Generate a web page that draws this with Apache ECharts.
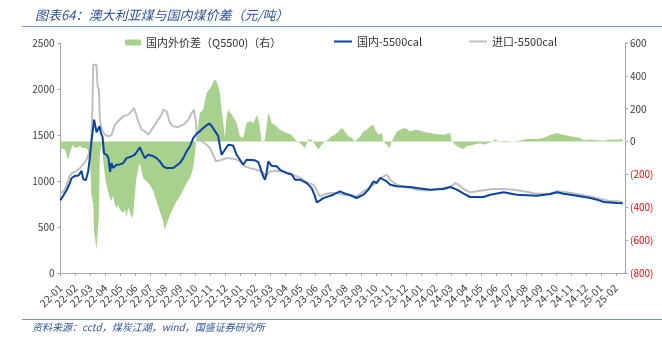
<!DOCTYPE html>
<html><head><meta charset="utf-8">
<script src="https://cdn.jsdelivr.net/npm/echarts@6/dist/echarts.min.js"></script>
<style>html,body{margin:0;padding:0;background:#fff}#c{width:662px;height:337px}</style>
</head><body><div id="c"></div>
<script>
const months = ['22-01','22-02','22-03','22-04','22-05','22-06','22-07','22-08','22-09','22-10','22-11','22-12',
'23-01','23-02','23-03','23-04','23-05','23-06','23-07','23-08','23-09','23-10','23-11','23-12',
'24-01','24-02','24-03','24-04','24-05','24-06','24-07','24-08','24-09','24-10','24-11','24-12','25-01','25-02'];

// [months since 2022-01-01, value] — domestic minus import spread (right axis)
const diffPts = [[0,-39],[0.29,-49],[0.4,-80],[0.51,-110],[0.62,-69],[0.73,-39],[0.84,-19],[0.95,-39],[1.06,-29],[1.29,-29],[1.4,-19],[1.51,-39],[1.73,-39],[1.95,-80],[2.06,-324],[2.18,-385],[2.24,-547],[2.33,-608],[2.4,-659],[2.46,-567],[2.55,-466],[2.62,-80],[2.73,-10],[2.84,-20],[2.95,-202],[3.06,-263],[3.29,-344],[3.4,-364],[3.51,-323],[3.62,-385],[3.73,-405],[3.84,-385],[3.95,-415],[4.06,-405],[4.18,-435],[4.29,-415],[4.4,-456],[4.51,-405],[4.62,-425],[4.73,-466],[4.84,-445],[4.95,-323],[5.06,-222],[5.18,-161],[5.29,-131],[5.4,-181],[5.51,-222],[5.73,-242],[5.95,-263],[6.18,-303],[6.4,-364],[6.62,-425],[6.84,-486],[6.95,-537],[7.06,-506],[7.18,-476],[7.29,-445],[7.51,-405],[7.73,-364],[7.95,-334],[8.18,-293],[8.4,-252],[8.62,-222],[8.84,-161],[8.95,-80],[9.02,0],[9.1,50],[9.28,173],[9.5,194],[9.73,296],[10.06,337],[10.17,367],[10.35,377],[10.5,340],[10.62,296],[10.73,194],[10.84,113],[10.95,22],[11.06,153],[11.17,194],[11.28,185],[11.5,153],[11.73,113],[11.95,32],[12.17,22],[12.39,113],[12.62,123],[12.84,113],[12.95,133],[13.1,164],[13.24,113],[13.4,0],[13.62,10],[13.84,174],[13.95,153],[14.06,113],[14.28,103],[14.62,72],[15.06,52],[15.4,42],[15.62,12],[15.73,22],[15.95,-9],[16.28,-40],[16.51,12],[16.73,12],[16.95,-19],[17.17,-49],[17.4,-19],[17.62,0],[17.84,12],[18.06,32],[18.28,42],[18.5,62],[18.73,83],[18.95,62],[19.17,32],[19.4,22],[19.62,0],[19.96,32],[20.18,62],[20.4,72],[20.62,93],[20.85,103],[20.96,72],[21.18,42],[21.4,52],[21.51,0],[21.73,-19],[21.91,-39],[22.07,0],[22.4,62],[22.73,77],[22.96,83],[23.29,62],[23.62,72],[23.96,68],[24.29,56],[24.62,52],[25.07,46],[25.51,42],[25.96,52],[26.07,0],[26.29,-19],[26.62,-39],[26.85,-45],[27.07,-29],[27.51,-19],[27.96,-10],[28.18,-19],[28.62,-5],[28.96,12],[29.29,-3],[29.73,-5],[30.18,0],[30.62,6],[31.07,15],[31.73,15],[32.18,22],[32.62,42],[33.07,52],[33.51,42],[33.96,32],[34.62,22],[34.85,8],[35.29,12],[35.73,8],[36.18,5],[36.62,12],[37.07,12],[37.45,15]];

// domestic 5500cal (left axis)
const domPts = [[0,790],[0.18,840],[0.4,900],[0.62,975],[0.73,1030],[0.95,1055],[1.2,1060],[1.4,1110],[1.51,1020],[1.69,1010],[1.84,1100],[1.95,1250],[2.06,1430],[2.15,1550],[2.24,1667],[2.3,1660],[2.4,1530],[2.5,1525],[2.6,1595],[2.69,1520],[2.8,1480],[2.9,1300],[3.07,1285],[3.2,1250],[3.3,1100],[3.4,1195],[3.51,1141],[3.73,1177],[3.95,1180],[4.18,1195],[4.4,1249],[4.73,1267],[4.95,1286],[5.18,1340],[5.29,1365],[5.4,1322],[5.62,1249],[5.84,1286],[6.1,1275],[6.4,1249],[6.62,1213],[6.84,1159],[7.06,1141],[7.51,1141],[7.95,1195],[8.18,1249],[8.4,1322],[8.62,1376],[8.84,1467],[9.07,1515],[9.28,1540],[9.5,1575],[9.73,1605],[9.9,1625],[10.06,1600],[10.28,1545],[10.5,1490],[10.62,1376],[10.73,1285],[10.95,1340],[11.17,1394],[11.5,1385],[11.73,1285],[11.95,1231],[12.17,1177],[12.39,1231],[12.95,1225],[13.17,1205],[13.28,1159],[13.5,1050],[13.62,1014],[13.73,1090],[13.84,1213],[13.95,1225],[14.06,1165],[14.4,1160],[14.62,1122],[15.06,1086],[15.4,1070],[15.62,1014],[15.95,1014],[16.4,977],[16.73,923],[16.95,833],[17.07,767],[17.29,790],[17.5,814],[18.17,851],[18.62,887],[18.84,870],[19.29,845],[19.73,815],[20.18,851],[20.51,906],[20.85,996],[21.07,978],[21.29,1033],[21.51,1014],[21.73,996],[21.96,960],[22.4,942],[23.29,935],[23.73,924],[24.62,906],[25.51,913],[25.96,935],[26.4,906],[26.85,862],[27.29,826],[28.18,826],[28.62,851],[29.51,877],[30.4,851],[31.73,840],[32.62,858],[33.07,877],[33.51,862],[34.4,840],[35.29,815],[35.73,797],[36.18,772],[37.07,761],[37.45,758]];

// imported 5500cal (left axis)
const impPts = [[0,880],[0.18,880],[0.4,950],[0.62,1060],[0.84,1095],[1.06,1110],[1.29,1141],[1.51,1180],[1.73,1231],[1.95,1320],[2.06,1450],[2.13,1812],[2.18,2264],[2.29,2282],[2.4,2264],[2.47,2029],[2.56,1993],[2.62,1685],[2.69,1594],[2.8,1540],[2.96,1504],[3.18,1485],[3.4,1500],[3.62,1612],[3.84,1649],[4.18,1703],[4.51,1721],[4.73,1757],[4.89,1793],[5.02,1775],[5.18,1649],[5.4,1558],[5.62,1540],[5.84,1504],[6.07,1558],[6.29,1612],[6.51,1667],[6.73,1721],[6.84,1775],[7.07,1757],[7.29,1630],[7.51,1594],[7.84,1587],[8.18,1612],[8.51,1660],[8.73,1738],[8.88,1775],[9.0,1666],[9.1,1485],[9.28,1449],[9.73,1394],[9.95,1358],[10.17,1285],[10.35,1213],[10.73,1230],[11.06,1249],[11.62,1240],[11.95,1213],[12.28,1159],[12.62,1140],[13.06,1122],[13.5,1090],[13.68,1050],[13.95,1104],[14.4,1110],[14.84,1104],[15.28,1086],[15.73,1050],[16.17,1014],[16.51,977],[16.84,960],[17.06,905],[17.28,833],[17.5,850],[17.95,869],[18.4,869],[18.84,851],[19.29,851],[19.73,833],[20.18,888],[20.51,924],[20.85,960],[21.07,996],[21.4,1040],[21.73,1069],[21.96,1014],[22.4,960],[22.84,935],[23.29,924],[23.73,906],[24.18,899],[24.62,899],[25.07,913],[25.51,924],[25.96,935],[26.29,978],[26.51,960],[26.85,913],[27.29,877],[27.73,888],[28.18,899],[28.84,913],[29.51,913],[30.18,906],[30.84,888],[31.73,862],[32.62,862],[33.07,888],[33.73,877],[34.4,858],[35.29,833],[35.73,815],[36.18,797],[36.62,779],[37.07,779],[37.45,768]];

const NAME_DIFF = '国内外价差（Q5500)（右）';
const NAME_DOM = '国内-5500cal';
const NAME_IMP = '进口-5500cal';
const TITLE = '图表64：澳大利亚煤与国内煤价差（元/吨）';
const SOURCE = '资料来源：cctd，煤炭江湖，wind，国盛证券研究所';

const FONT = '"Noto Sans CJK SC","Noto Sans",sans-serif';
const AXIS_C = '#A6A6A6';
const LBL_C = '#404040';
const GREEN = '#A9D18E', BLUE = '#0B43A0', GRAY = '#BFBFBF';

const chart = echarts.init(document.getElementById('c'));
chart.setOption({
  animation: false,
  textStyle: { fontFamily: FONT },
  title: {
    text: TITLE, left: 30, top: 4,
    textStyle: { fontSize: 13, fontStyle: 'italic', fontWeight: 'normal', color: '#2E5395', fontFamily: FONT }
  },
  graphic: [
    { type: 'line', shape: { x1: 22, y1: 26.5, x2: 662, y2: 26.5 }, style: { stroke: '#7096D0', lineWidth: 1.2 } },
    { type: 'line', shape: { x1: 22, y1: 319.5, x2: 662, y2: 319.5 }, style: { stroke: '#7096D0', lineWidth: 1.2 } },
    { type: 'text', left: 32, top: 322, style: { text: SOURCE, font: 'italic 10px ' + FONT, fill: '#2E5395' } }
  ],
  legend: [
    { data: [NAME_DIFF], left: 120, top: 32, icon: 'rect', itemWidth: 16, itemHeight: 6, itemGap: 0,
      textStyle: { fontSize: 11, color: '#333', fontFamily: FONT } },
    { data: [NAME_DOM], left: 329, top: 31, icon: 'rect', itemWidth: 18, itemHeight: 2,
      textStyle: { fontSize: 11, color: '#333', fontFamily: FONT } },
    { data: [NAME_IMP], left: 464, top: 31, icon: 'rect', itemWidth: 18, itemHeight: 2,
      textStyle: { fontSize: 11, color: '#333', fontFamily: FONT } }
  ],
  grid: { left: 60.5, right: 37, top: 43, bottom: 64 },
  xAxis: {
    type: 'value', min: 0, max: 37.6, interval: 1,
    axisLine: { show: true, lineStyle: { color: AXIS_C } },
    axisTick: { show: true, length: 3, lineStyle: { color: AXIS_C } },
    splitLine: { show: false },
    axisLabel: {
      rotate: 45, fontSize: 10.5, color: LBL_C, margin: 13, showMaxLabel: false,
      formatter: function (v) { const r = Math.round(v); return (Math.abs(v - r) < 1e-6 && months[r]) ? months[r] : ''; }
    }
  },
  yAxis: [
    {
      type: 'value', min: 0, max: 2500, interval: 500, position: 'left',
      axisLine: { show: true, lineStyle: { color: AXIS_C } },
      axisTick: { show: true, length: 3, lineStyle: { color: AXIS_C } },
      splitLine: { show: false },
      axisLabel: { fontSize: 10, color: LBL_C, margin: 6, formatter: function (v) { return String(v); } }
    },
    {
      type: 'value', min: -800, max: 600, interval: 200, position: 'right',
      axisLine: { show: true, lineStyle: { color: AXIS_C } },
      axisTick: { show: true, length: 3, lineStyle: { color: AXIS_C } },
      splitLine: { show: false },
      axisLabel: {
        fontSize: 10, color: LBL_C, margin: 5,
        formatter: function (v) { return v < 0 ? '{r|(' + Math.abs(v) + ')}' : String(v); },
        rich: { r: { color: '#FF0000', fontSize: 10 } }
      }
    }
  ],
  series: [
    { name: NAME_DIFF, type: 'line', yAxisIndex: 1, data: diffPts, symbol: 'none',
      lineStyle: { width: 0, color: GREEN }, itemStyle: { color: GREEN },
      areaStyle: { color: GREEN, opacity: 1 }, z: 1 },
    { name: NAME_IMP, type: 'line', yAxisIndex: 0, data: impPts, symbol: 'none',
      lineStyle: { width: 2, color: GRAY }, itemStyle: { color: GRAY }, z: 2 },
    { name: NAME_DOM, type: 'line', yAxisIndex: 0, data: domPts, symbol: 'none',
      lineStyle: { width: 2, color: BLUE }, itemStyle: { color: BLUE }, z: 3 }
  ]
});
</script>
</body></html>
